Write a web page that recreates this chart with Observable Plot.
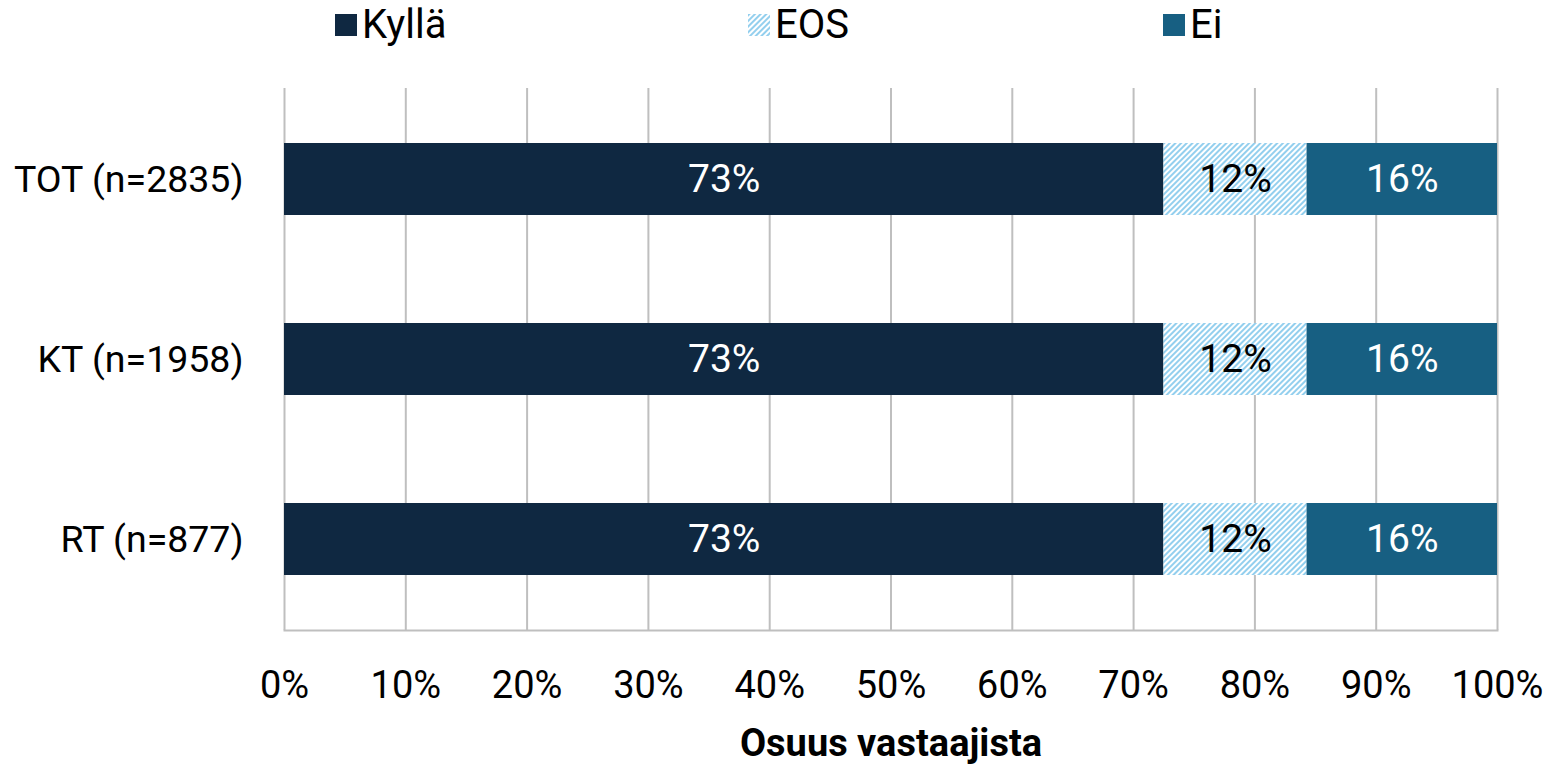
<!DOCTYPE html>
<html>
<head>
<meta charset="utf-8">
<script src="https://cdn.jsdelivr.net/npm/d3@7"></script>
<script src="https://cdn.jsdelivr.net/npm/@observablehq/plot@0.6"></script>
<style>
  body { margin: 0; background: white; font-family: Roboto, "Liberation Sans", sans-serif; }
  #legend { position: relative; height: 50px; width: 1550px; }
  .item { position: absolute; top: 4px; display: flex; align-items: center; font-size: 40px; color: #000; line-height: 42px; }
  .sw { width: 22px; height: 22px; margin-right: 5px; display: inline-block; }
</style>
</head>
<body>
<svg width="0" height="0" style="position:absolute">
  <defs>
    <pattern id="hatch" patternUnits="userSpaceOnUse" width="4" height="4" patternTransform="rotate(45)">
      <rect width="4" height="4" fill="white"></rect>
      <line x1="1" y1="0" x2="1" y2="4" stroke="#80c7eb" stroke-width="1.7"></line>
    </pattern>
  </defs>
</svg>
<div id="legend"></div>
<div id="chart"></div>
<script>
// ---- data ----
const groups = ["TOT (n=2835)", "KT (n=1958)", "RT (n=877)"];
const responses = ["Kyllä", "EOS", "Ei"];
const kylla = [72.5, 72.5, 72.5];
const eos = [11.8, 11.8, 11.8];
const ei = [15.7, 15.7, 15.7];
const xTicks = [0, 10, 20, 30, 40, 50, 60, 70, 80, 90, 100];
const xTitle = "Osuus vastaajista";

// ---- styles ----
const fills = {"Kyllä": "#0f2841", "EOS": "url(#hatch)", "Ei": "#175f82"};
const textFills = {"Kyllä": "white", "EOS": "black", "Ei": "white"};

const series = {"Kyllä": kylla, "EOS": eos, "Ei": ei};
const data = [];
groups.forEach((g, i) => {
  responses.forEach(r => data.push({group: g, response: r, value: series[r][i]}));
});

// legend
const legend = document.getElementById("legend");
const legendLeft = {"Kyllä": 335, "EOS": 748, "Ei": 1163};
responses.forEach(r => {
  const it = document.createElement("div");
  it.className = "item";
  it.style.left = legendLeft[r] + "px";
  const sw = document.createElementNS("http://www.w3.org/2000/svg", "svg");
  sw.setAttribute("width", 22); sw.setAttribute("height", 22);
  sw.setAttribute("class", "sw");
  const rect = document.createElementNS("http://www.w3.org/2000/svg", "rect");
  rect.setAttribute("width", 22); rect.setAttribute("height", 22);
  rect.setAttribute("fill", fills[r]);
  sw.appendChild(rect);
  it.appendChild(sw);
  const t = document.createElement("span");
  t.textContent = r;
  it.appendChild(t);
  legend.appendChild(it);
});

const fmt = d => d + "%";

const chart = Plot.plot({
  width: 1550,
  height: 717,
  marginTop: 38,
  marginBottom: 137,
  marginLeft: 284,
  marginRight: 53,
  style: {fontFamily: "Roboto, 'Liberation Sans', sans-serif", fontSize: "36px", color: "black", background: "white"},
  x: {domain: [0, 100], ticks: xTicks, tickFormat: fmt, label: null},
  y: {domain: groups, paddingInner: 0.6, paddingOuter: 0.3, label: null},
  color: {type: "identity"},
  marks: [
    Plot.gridX(xTicks, {stroke: "#bfbfbf", strokeOpacity: 1, strokeWidth: 2}),
    Plot.frame({anchor: "bottom", stroke: "#bfbfbf", strokeWidth: 2}),
    Plot.barX(data, Plot.stackX({
      x: "value", y: "group", order: responses,
      fill: d => fills[d.response], z: "response"
    })),
    Plot.textX(data, Plot.stackX({
      x: "value", y: "group", order: responses, z: "response",
      text: d => Math.round(d.value) + "%",
      fill: d => textFills[d.response],
      fontSize: 39
    })),
    Plot.axisX(xTicks, {tickSize: 0, tickPadding: 41, fontSize: 38, tickFormat: fmt, label: null}),
    Plot.axisY({tickSize: 0, tickPadding: 41, fontSize: 37.5, label: null}),
    Plot.text([xTitle], {frameAnchor: "bottom", dy: 125, fontWeight: "bold", fontSize: 38, fill: "black"})
  ]
});
document.getElementById("chart").appendChild(chart);
</script>
</body>
</html>
